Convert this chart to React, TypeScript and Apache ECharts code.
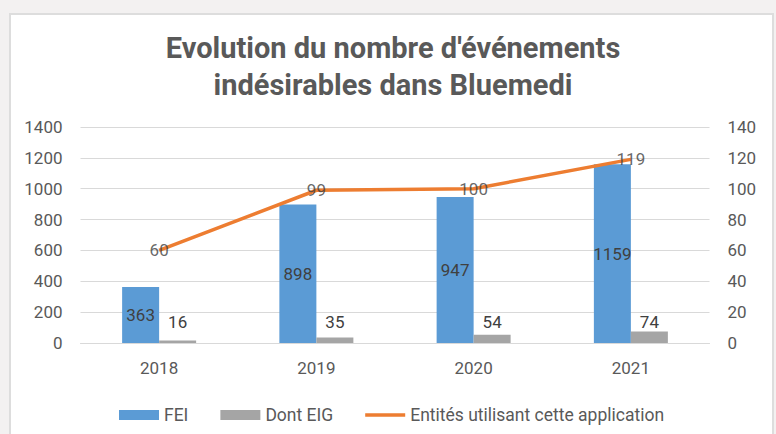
import React, { useEffect, useRef } from "react";
import * as echarts from "echarts";

const categories = ["2018", "2019", "2020", "2021"];
const feiValues = [363, 898, 947, 1159];
const eigValues = [16, 35, 54, 74];
const entitesValues = [60, 99, 100, 119];
const titleLines = ["Evolution du nombre d'événements", "indésirables dans Bluemedi"];
const seriesNames = ["FEI", "Dont EIG", "Entités utilisant cette application"];

const FONT = "Roboto, 'Noto Sans', sans-serif";
const LINE_ICON =
  "path://M0,0 L40,0 L40,0.01 L0,0.01 Z M0,3.2 L40,3.2 L40,6.8 L0,6.8 Z M0,9.99 L40,9.99 L40,10 L0,10 Z";

export default function App() {
  const ref = useRef<HTMLDivElement>(null);
  useEffect(() => {
    if (!ref.current) return;
    const chart = echarts.init(ref.current, undefined, { renderer: "svg" });
    chart.setOption({
      animation: false,
      textStyle: { fontFamily: FONT },
      title: {
        text: titleLines.join("\n"),
        left: 393,
        textAlign: "center",
        top: 29,
        padding: 0,
        textStyle: {
          fontFamily: FONT,
          fontSize: 29,
          fontWeight: "bold",
          color: "#595959",
          lineHeight: 37,
        },
      },
      legend: {
        left: 119,
        top: 406,
        padding: 0,
        itemWidth: 40,
        itemHeight: 10,
        itemGap: 32,
        textStyle: { fontFamily: FONT, fontSize: 17.5, color: "#595959" },
        data: [
          { name: seriesNames[0], icon: "rect" },
          { name: seriesNames[1], icon: "rect" },
          { name: seriesNames[2], icon: LINE_ICON, itemStyle: { color: "#ED7D31" } },
        ],
      },
      grid: { left: 80.5, right: 66.5, top: 127, bottom: 91, containLabel: false },
      xAxis: {
        type: "category",
        data: categories,
        axisLine: { lineStyle: { color: "#d9d9d9", width: 1 } },
        axisTick: { show: false },
        axisLabel: {
          fontFamily: FONT,
          fontSize: 17,
          color: "#595959",
          margin: 16,
        },
      },
      yAxis: [
        {
          type: "value",
          min: 0,
          max: 1400,
          interval: 200,
          axisLine: { show: false },
          axisTick: { show: false },
          splitLine: { lineStyle: { color: "#d9d9d9", width: 1 } },
          axisLabel: {
            fontFamily: FONT,
            fontSize: 17,
            color: "#595959",
            margin: 18,
            formatter: (v: number) => String(v),
          },
        },
        {
          type: "value",
          min: 0,
          max: 140,
          interval: 20,
          axisLine: { show: false },
          axisTick: { show: false },
          splitLine: { show: false },
          axisLabel: {
            fontFamily: FONT,
            fontSize: 17,
            color: "#595959",
            margin: 18,
            formatter: (v: number) => String(v),
          },
        },
      ],
      series: [
        {
          name: seriesNames[0],
          type: "bar",
          data: feiValues,
          barWidth: 37,
          barGap: "0%",
          itemStyle: { color: "#5B9BD5" },
          label: {
            show: true,
            position: "inside",
            fontFamily: FONT,
            fontSize: 17,
            color: "#404040",
          },
        },
        {
          name: seriesNames[1],
          type: "bar",
          data: eigValues,
          barWidth: 37,
          barGap: "0%",
          itemStyle: { color: "#A5A5A5" },
          label: {
            show: true,
            position: "insideBottom",
            distance: 13,
            fontFamily: FONT,
            fontSize: 17,
            color: "#404040",
          },
        },
        {
          name: seriesNames[2],
          type: "line",
          yAxisIndex: 1,
          data: entitesValues,
          symbol: "none",
          lineStyle: { color: "#ED7D31", width: 3.5 },
          itemStyle: { color: "#ED7D31" },
          z: 3,
        },
        {
          name: "labels",
          type: "scatter",
          yAxisIndex: 1,
          data: entitesValues,
          symbolSize: 0,
          itemStyle: { color: "rgba(0,0,0,0)" },
          label: {
            show: true,
            position: "inside",
            fontFamily: FONT,
            fontSize: 17,
            color: "#404040",
          },
          z: 4,
        },
      ],
    });
    return () => chart.dispose();
  }, []);

  return (
    <div
      style={{
        position: "fixed",
        left: 0,
        top: 0,
        width: 776,
        height: 434,
        background: "#f3f1f1",
        overflow: "hidden",
      }}
    >
      <div
        style={{
          position: "absolute",
          left: 9,
          top: 13,
          width: 761,
          height: 440,
          background: "#ffffff",
          border: "2px solid #dddddd",
        }}
      />
      <div ref={ref} style={{ position: "absolute", left: 0, top: 0, width: 776, height: 434 }} />
    </div>
  );
}
